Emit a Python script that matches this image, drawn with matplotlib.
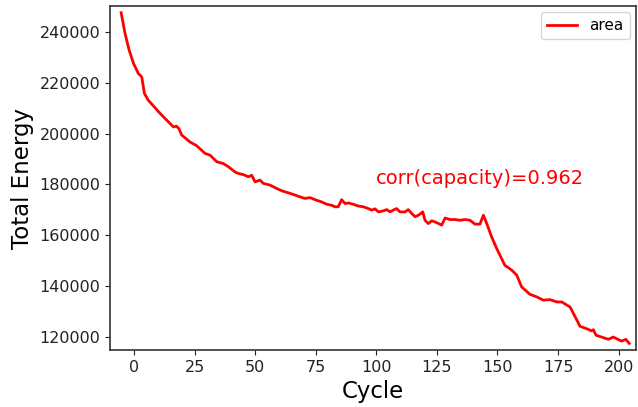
import matplotlib
matplotlib.use("Agg")
import matplotlib.pyplot as plt

# cycle index and total energy
cycle = [-5.3, -3.7, -2.0, -0.2, 1.8, 3.2, 4.3, 5.9, 10.8, 14.2, 16.3, 17.5, 18.5,
         19.7, 23.1, 25.9, 29.3, 31.4, 34.2, 36.9, 39.0, 41.7, 43.1, 44.5, 45.8,
         47.2, 48.6, 50.0, 52.0, 53.4, 56.2, 58.9, 61.0, 63.7, 66.5, 68.5, 70.6,
         72.7, 74.7, 77.5, 79.6, 81.6, 83.0, 84.3, 85.7, 87.1, 88.5, 90.5, 92.6,
         94.7, 96.7, 98.1, 99.5, 100.9, 102.9, 104.3, 105.7, 107.0, 108.4, 109.8,
         111.9, 113.2, 114.6, 116.0, 117.4, 119.2, 120.1, 121.5, 122.9, 124.9,
         127.0, 128.4, 130.4, 132.5, 134.5, 136.6, 138.7, 140.7, 142.8, 144.2,
         145.6, 147.6, 149.7, 152.4, 153.1, 155.9, 158.0, 160.0, 163.4, 166.2,
         168.9, 171.7, 174.5, 176.5, 180.0, 182.1, 184.1, 186.8, 188.9, 189.6,
         190.7, 193.0, 195.8, 197.8, 199.9, 201.3, 203.0, 204.4]
energy = [247500, 239400, 232800, 227600, 223600, 222300, 215800, 213100, 207900,
          204600, 202600, 202900, 202000, 199400, 196700, 195200, 192200, 191500,
          188900, 188200, 186900, 184900, 184300, 184000, 183600, 183000, 183600,
          181000, 181700, 180400, 179700, 178400, 177500, 176700, 175800, 175100,
          174500, 174800, 174000, 173100, 172200, 171800, 171200, 171200, 174000,
          172500, 172700, 172200, 171500, 171200, 170500, 169900, 170400, 169200,
          169600, 170100, 169200, 169900, 170500, 169200, 169200, 170100, 168600,
          167300, 167900, 169200, 165900, 164600, 165700, 165000, 164000, 166800,
          166200, 166200, 165900, 166200, 165900, 164400, 164400, 167900, 164600,
          159400, 154800, 149500, 148200, 146300, 144300, 139700, 136800, 135800,
          134500, 134700, 133800, 133800, 131800, 127900, 124200, 123300, 122400,
          122900, 120700, 120000, 119100, 120000, 119000, 118400, 119100, 117500]

x_ticks = [0, 25, 50, 75, 100, 125, 150, 175, 200]
y_ticks = [120000, 140000, 160000, 180000, 200000, 220000, 240000]

fig = plt.figure(figsize=(6.38, 4.07), dpi=100)
ax = fig.add_axes([0.1724, 0.140, 0.8245, 0.845])
ax.plot(cycle, energy, color='red', linewidth=2, label='area')

ax.text(100, 180000, 'corr(capacity)=0.962', color='red', fontsize=14)

ax.set_xlim(-9.9, 207.2)
ax.set_ylim(114900, 250100)
ax.set_xticks(x_ticks)
ax.set_yticks(y_ticks)
ax.tick_params(labelsize=11.5, color='#222222', labelcolor='#222222')
for sp in ax.spines.values():
    sp.set_color('#333333')
    sp.set_linewidth(1.2)

ax.set_xlabel('Cycle', fontsize=16.5)
ax.set_ylabel('Total Energy', fontsize=16.5)
ax.legend(loc='upper right', fontsize=11, borderaxespad=0.4)

fig.savefig('out.png', dpi=100)
